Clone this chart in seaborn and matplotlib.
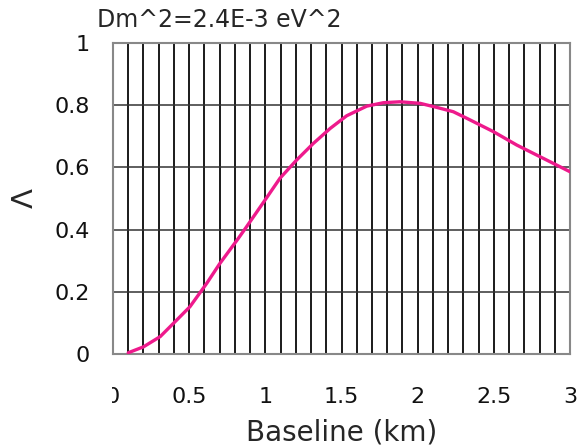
import numpy as np
import pandas as pd
import matplotlib
matplotlib.use("Agg")
import matplotlib.pyplot as plt
from matplotlib.transforms import Bbox, TransformedBbox
import seaborn as sns

baseline_km = [0.10, 0.20, 0.31, 0.42, 0.505, 0.615, 0.70, 0.823, 0.878, 0.998,
               1.096, 1.206, 1.315, 1.425, 1.534, 1.666, 1.775, 1.884, 2.016,
               2.125, 2.234, 2.322, 2.497, 2.65, 2.825, 3.0]
lam = [0.004, 0.023, 0.056, 0.11, 0.152, 0.227, 0.29, 0.372, 0.41, 0.495,
       0.565, 0.624, 0.677, 0.725, 0.766, 0.797, 0.808, 0.811, 0.806,
       0.793, 0.779, 0.758, 0.715, 0.672, 0.629, 0.586]
x_ticks = [0, 0.5, 1, 1.5, 2, 2.5, 3]
x_tick_labels = ["0", "0.5", "1", "1.5", "2", "2.5", "3"]
y_ticks = [0, 0.2, 0.4, 0.6, 0.8, 1]
y_tick_labels = ["0", "0.2", "0.4", "0.6", "0.8", "1"]
title_text = "Dm^2=2.4E-3 eV^2"

df = pd.DataFrame({"Baseline (km)": baseline_km, "Λ": lam})

sns.set_style("white")
plt.rcParams["font.family"] = ["DejaVu Sans"]

fig = plt.figure(figsize=(5.77, 4.48), dpi=100)
ax = fig.add_axes([113/577, 1 - 354/448, (570-113)/577, (354-43)/448])

# grid lines
for xv in np.arange(0.1, 3.0, 0.1):
    ax.axvline(xv, color="#1a1a1a", lw=1.4, zorder=1)
for yv in [0.2, 0.4, 0.6, 0.8]:
    ax.axhline(yv, color="#333333", lw=1.1, zorder=1)

sns.lineplot(data=df, x="Baseline (km)", y="Λ", ax=ax, color="#ee1a8c",
             lw=2.4, zorder=3)

ax.set_xlim(0, 3)
ax.set_ylim(0, 1)
ax.set_xticks(x_ticks)
ax.set_xticklabels(x_tick_labels)
ax.set_yticks(y_ticks)
ax.set_yticklabels(y_tick_labels)
ax.tick_params(axis="both", labelsize=16, length=0, colors="#111111")
ax.tick_params(axis="x", pad=24)
ax.tick_params(axis="y", pad=17)
ax.set_xlabel("Baseline (km)", fontsize=20, labelpad=8)
ax.set_ylabel("Λ", fontsize=21, labelpad=11)
for s in ax.spines.values():
    s.set_color("#888888")
    s.set_linewidth(1.5)

# the first x tick label is clipped at the plot's left edge in the original
clip = TransformedBbox(Bbox([[112/577, 0], [1, 1]]), fig.transFigure)
first = ax.get_xticklabels()[0]
first.set_clip_box(clip)
first.set_clip_on(True)

fig.text(97/577, 1 - 27/448, title_text, fontsize=17, ha="left", va="baseline")

fig.savefig("out.png", dpi=100)
